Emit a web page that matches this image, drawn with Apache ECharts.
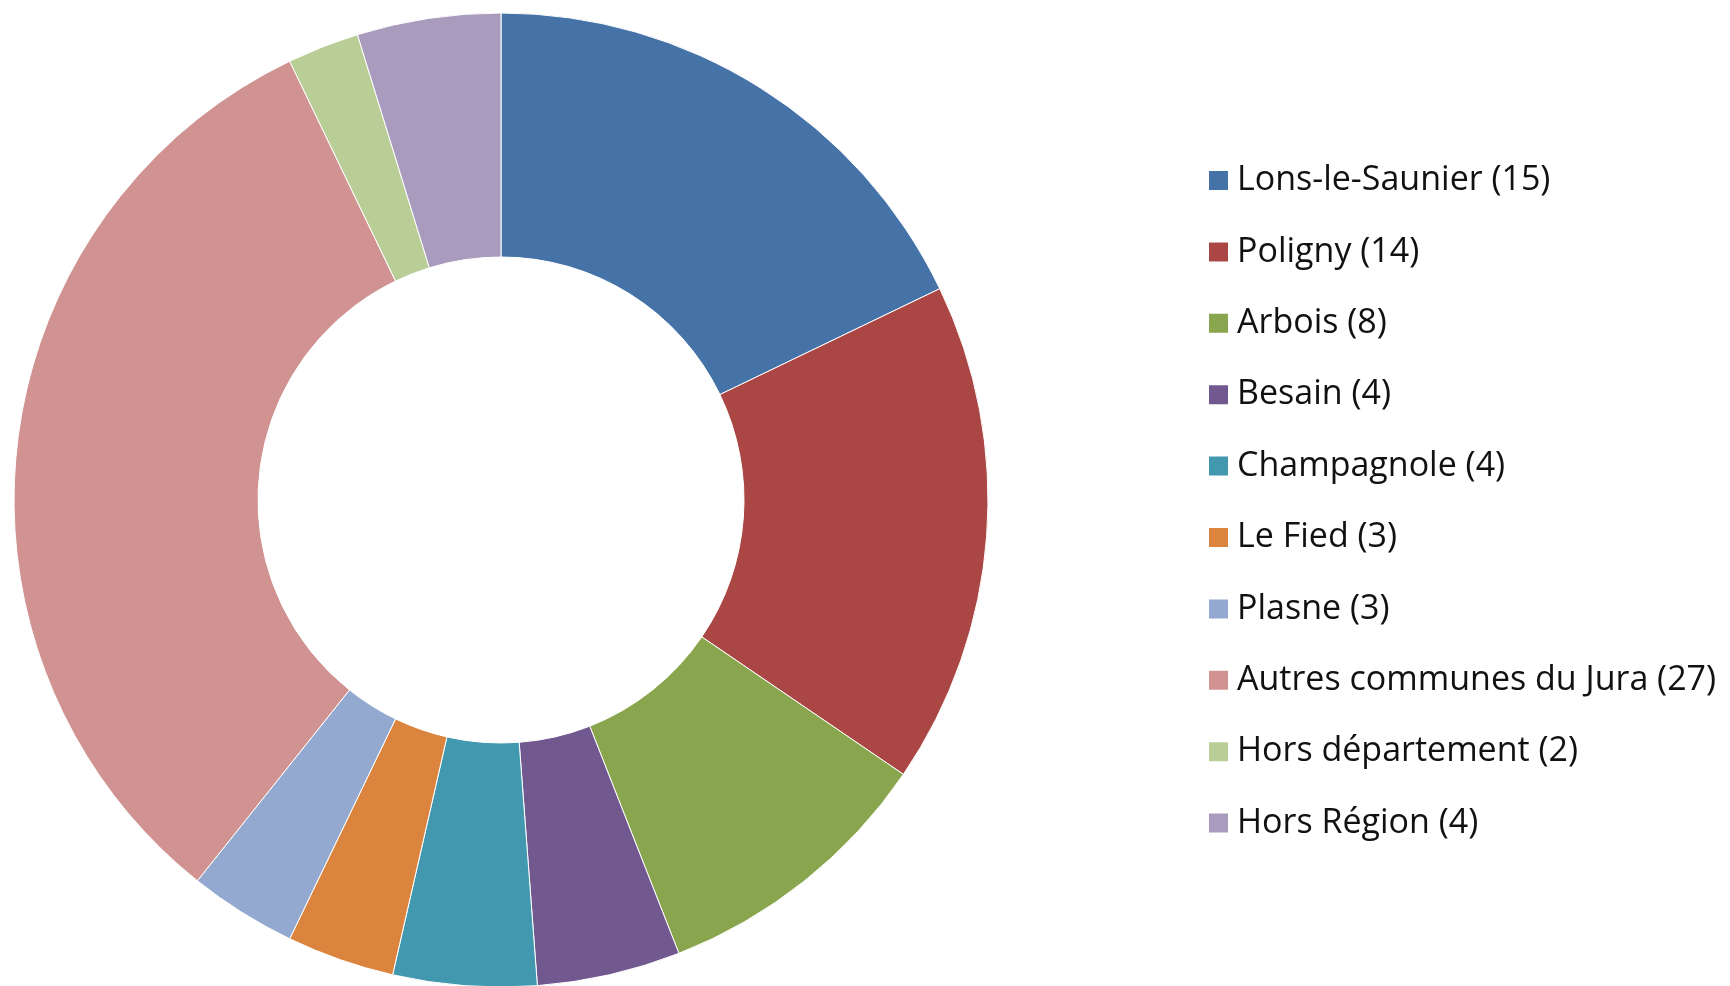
<!DOCTYPE html>
<html><head><meta charset="utf-8">
<script src="https://cdn.jsdelivr.net/npm/echarts@6/dist/echarts.min.js"></script>
<style>html,body{margin:0;padding:0;background:#fff}#c{width:1730px;height:986px}</style>
</head><body><div id="c"></div>
<script>
const categories = ["Lons-le-Saunier","Poligny","Arbois","Besain","Champagnole","Le Fied","Plasne","Autres communes du Jura","Hors département","Hors Région"];
const values = [15,14,8,4,4,3,3,27,2,4];
const colors = ["#4572A7","#AA4643","#89A54E","#71588F","#4198AF","#DB843D","#93A9CF","#D19392","#B9CD96","#A99BBD"];

const data = categories.map((n,i)=>({name:n,value:values[i]}));
const chart = echarts.init(document.getElementById('c'));
chart.setOption({
  animation:false,
  color:colors,
  legend:{
    orient:'vertical', left:1202, top:158.5,
    itemWidth:21, itemHeight:21, itemGap:37.4,
    icon:'rect',
    formatter:n=>n+' ('+values[categories.indexOf(n)]+')',
    textStyle:{fontFamily:'Open Sans',fontSize:34,color:'#111',padding:[0,0,0,3]}
  },
  series:[{
    type:'pie', center:[501,500], radius:[243,487], startAngle:90, clockwise:true,
    label:{show:false}, labelLine:{show:false},
    itemStyle:{borderColor:'#fff',borderWidth:1},
    emphasis:{disabled:true},
    data:data
  }]
});
</script></body></html>
